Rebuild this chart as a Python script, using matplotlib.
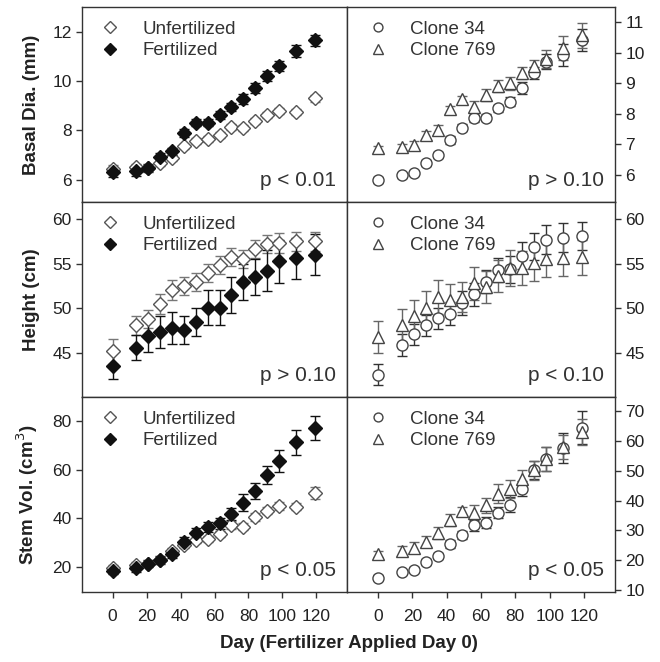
import numpy as np
import matplotlib.pyplot as plt

plt.rcParams['font.family'] = ['Liberation Sans', 'DejaVu Sans']

# sampling days
days = [0, 14, 21, 28, 35, 42, 49, 56, 63, 70, 77, 84, 91, 98, 108, 119]

# basal diameter (mm)
unf_dia = [6.43, 6.50, 6.47, 6.67, 6.88, 7.35, 7.59, 7.64, 7.82, 8.13, 8.09, 8.40, 8.63, 8.80, 8.76, 9.30]
unf_dia_err = [0.15, 0.12, 0.12, 0.12, 0.12, 0.12, 0.12, 0.12, 0.12, 0.12, 0.12, 0.12, 0.12, 0.12, 0.12, 0.15]
fert_dia = [6.30, 6.36, 6.47, 6.92, 7.15, 7.89, 8.32, 8.32, 8.63, 8.94, 9.27, 9.73, 10.20, 10.62, 11.23, 11.66]
fert_dia_err = [0.2, 0.2, 0.15, 0.15, 0.15, 0.15, 0.15, 0.15, 0.15, 0.17, 0.2, 0.2, 0.2, 0.2, 0.25, 0.22]
c34_dia = [5.82, 5.98, 6.05, 6.38, 6.64, 7.14, 7.54, 7.85, 7.87, 8.17, 8.39, 8.83, 9.34, 9.70, 9.92, 10.42]
c34_dia_err = [0.1, 0.08, 0.08, 0.1, 0.1, 0.12, 0.12, 0.12, 0.12, 0.12, 0.15, 0.2, 0.2, 0.25, 0.35, 0.35]
c769_dia = [6.87, 6.89, 6.96, 7.30, 7.47, 8.14, 8.47, 8.23, 8.61, 8.90, 8.99, 9.34, 9.55, 9.80, 10.15, 10.57]
c769_dia_err = [0.08, 0.12, 0.15, 0.12, 0.15, 0.12, 0.12, 0.2, 0.2, 0.2, 0.2, 0.2, 0.2, 0.3, 0.4, 0.4]

# height (cm)
unf_h = [45.2, 48.1, 48.8, 50.5, 52.1, 52.5, 53.0, 54.0, 54.9, 55.8, 55.5, 56.6, 57.2, 57.3, 57.5, 57.5]
unf_h_err = [1.4, 1.1, 1.0, 1.1, 1.1, 1.0, 1.0, 1.0, 1.0, 1.0, 1.0, 1.0, 1.0, 1.1, 1.1, 1.1]
fert_h = [43.6, 45.6, 46.9, 47.4, 47.8, 47.6, 48.5, 50.1, 50.1, 51.5, 53.0, 53.5, 54.2, 55.3, 55.6, 56.0]
fert_h_err = [1.5, 1.4, 1.8, 1.8, 1.8, 1.6, 1.6, 2.0, 2.0, 2.0, 2.0, 2.0, 2.3, 2.4, 2.3, 2.3]
c34_h = [42.6, 45.9, 47.1, 48.1, 48.9, 49.4, 50.6, 51.6, 53.0, 54.3, 54.4, 55.9, 56.9, 57.7, 57.9, 58.1]
c34_h_err = [1.2, 1.2, 1.2, 1.2, 1.2, 1.3, 1.3, 1.3, 1.3, 1.3, 1.5, 1.5, 1.5, 1.6, 1.6, 1.6]
c769_h = [46.8, 48.1, 49.1, 50.1, 51.3, 50.9, 51.3, 52.8, 52.4, 53.6, 54.5, 54.5, 55.1, 55.5, 55.6, 55.7]
c769_h_err = [1.8, 1.8, 1.8, 1.8, 1.9, 1.8, 1.7, 1.8, 1.8, 1.8, 2.0, 1.9, 2.0, 2.0, 2.0, 2.0]

# stem volume (cm3)
unf_v = [19.6, 21.0, 21.4, 23.0, 26.7, 28.9, 30.9, 31.6, 33.6, 37.3, 36.6, 40.5, 43.2, 45.1, 44.8, 50.3]
unf_v_err = [1.0, 1.0, 1.0, 1.0, 1.0, 1.2, 1.2, 1.2, 1.2, 1.5, 1.5, 1.5, 1.5, 1.5, 1.5, 2.5]
fert_v = [18.2, 19.6, 21.4, 23.0, 25.5, 30.2, 33.9, 36.4, 38.0, 41.8, 46.5, 51.4, 57.8, 63.5, 71.2, 77.2]
fert_v_err = [1.3, 1.5, 1.5, 1.6, 1.8, 2.0, 2.0, 2.0, 2.2, 2.4, 3.4, 3.3, 3.6, 4.4, 5.0, 4.8]
c34_v = [14.2, 16.1, 16.9, 19.5, 21.5, 25.4, 28.4, 31.7, 32.6, 35.9, 38.7, 44.0, 50.4, 54.0, 57.7, 64.4]
c34_v_err = [0.8, 0.8, 0.8, 1.0, 1.0, 1.3, 1.3, 1.8, 1.8, 1.8, 2.5, 2.5, 3.0, 4.0, 5.0, 5.5]
c769_v = [22.0, 23.2, 24.3, 26.2, 29.0, 33.4, 36.5, 35.9, 38.4, 42.3, 44.0, 47.3, 50.1, 54.0, 57.9, 63.0]
c769_v_err = [1.0, 1.5, 1.8, 1.8, 2.0, 2.0, 1.5, 2.8, 2.5, 3.2, 3.0, 3.0, 3.3, 4.0, 4.0, 4.5]

ylabels = ['Basal Dia. (mm)', 'Height (cm)', 'Stem Vol. (cm$^3$)']
p_left = ['p < 0.01', 'p > 0.10', 'p < 0.05']
p_right = ['p > 0.10', 'p < 0.10', 'p < 0.05']
ylim_left = [(5.1, 13.0), (40.1, 61.9), (9.7, 89.9)]
ylim_right = [(5.1, 11.5), (40.1, 61.9), (9.4, 74.7)]
yticks_left = [[6, 8, 10, 12], [45, 50, 55, 60], [20, 40, 60, 80]]
yticks_right = [[6, 7, 8, 9, 10, 11], [45, 50, 55, 60], [10, 20, 30, 40, 50, 60, 70]]

left_data = [(unf_dia, unf_dia_err, fert_dia, fert_dia_err),
             (unf_h, unf_h_err, fert_h, fert_h_err),
             (unf_v, unf_v_err, fert_v, fert_v_err)]
right_data = [(c34_dia, c34_dia_err, c769_dia, c769_dia_err),
              (c34_h, c34_h_err, c769_h, c769_h_err),
              (c34_v, c34_v_err, c769_v, c769_v_err)]

dark = '#333333'
fig = plt.figure(figsize=(6.6, 6.62), dpi=100)

x0, xm, x1 = 82/660, 347/660, 615/660
top, bot = 1 - 7/662, 1 - 592/662
h = (top - bot) / 3

def style(ax, right):
    ax.set_xlim(-18, 138)
    for s in ax.spines.values():
        s.set_color(dark)
        s.set_linewidth(1.0)
    ax.tick_params(colors=dark, labelcolor='#222222', labelsize=12.5, length=4, width=1, direction='out')
    if right:
        ax.yaxis.tick_right()
    ax.set_xticks([0, 20, 40, 60, 80, 100, 120])

for i in range(3):
    yb = top - (i + 1) * h
    axl = fig.add_axes([x0, yb, xm - x0, h])
    axr = fig.add_axes([xm, yb, x1 - xm, h])
    style(axl, False)
    style(axr, True)

    u, ue, f, fe = left_data[i]
    axl.errorbar(days, u, yerr=ue, fmt='none', ecolor='#777777', elinewidth=1, capsize=3.5, zorder=2)
    axl.errorbar(days, f, yerr=fe, fmt='none', ecolor='#111111', elinewidth=1, capsize=3.5, zorder=2)
    axl.plot(days, u, 'D', ms=7.3, mfc='white', mec='#555555', mew=1, ls='none', label='Unfertilized', zorder=3)
    axl.plot(days, f, 'D', ms=7.3, mfc='#111111', mec='#111111', mew=1, ls='none', label='Fertilized', zorder=4)

    a, ae, b, be = right_data[i]
    axr.errorbar(days, a, yerr=ae, fmt='none', ecolor='#333333', elinewidth=1, capsize=3.5, zorder=2)
    axr.errorbar(days, b, yerr=be, fmt='none', ecolor='#666666', elinewidth=1, capsize=3.5, zorder=2)
    axr.plot(days, a, 'o', ms=8, mfc='white', mec='#444444', mew=1, ls='none', label='Clone 34', zorder=3)
    axr.plot(days, b, '^', ms=8.5, mfc='white', mec='#444444', mew=1, ls='none', label='Clone 769', zorder=4)

    axl.set_ylim(*ylim_left[i])
    axr.set_ylim(*ylim_right[i])
    axl.set_yticks(yticks_left[i])
    axr.set_yticks(yticks_right[i])
    axl.set_ylabel(ylabels[i], fontsize=13.5, fontweight='bold', color='#222222', labelpad=9)

    for ax, ptxt, lx in ((axl, p_left[i], 0.057), (axr, p_right[i], 0.067)):
        ax.legend(loc='upper left', bbox_to_anchor=(lx, 0.95), frameon=False, fontsize=13.5,
                  handlelength=1.0, handletextpad=1.22, labelspacing=0.25, borderaxespad=0,
                  borderpad=0.2, markerscale=0.8, labelcolor='#333333')
        ax.text(0.96, 0.06, ptxt, transform=ax.transAxes, ha='right', va='bottom',
                fontsize=15, color='#333333')
        if i < 2:
            ax.tick_params(axis='x', bottom=False, labelbottom=False)
        else:
            ax.tick_params(axis='x', pad=8)

fig.text((x0 + x1) / 2, 0.015, 'Day (Fertilizer Applied Day 0)', ha='center', va='bottom',
         fontsize=13.5, fontweight='bold', color='#222222')

fig.savefig('out.png', dpi=100, facecolor='white')
